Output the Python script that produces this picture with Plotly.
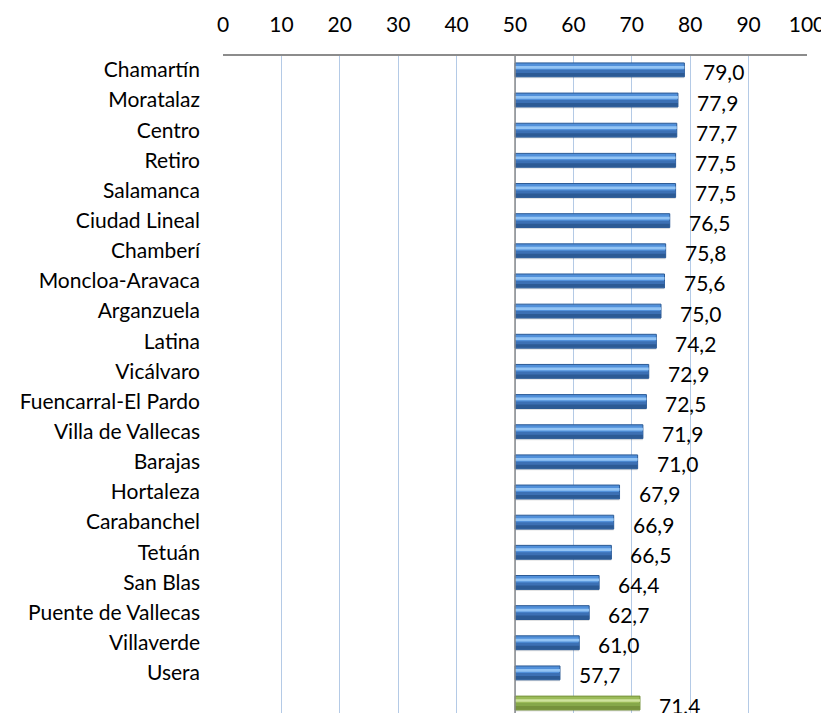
import plotly.graph_objects as go

categories = ["Chamartín", "Moratalaz", "Centro", "Retiro", "Salamanca", "Ciudad Lineal",
              "Chamberí", "Moncloa-Aravaca", "Arganzuela", "Latina", "Vicálvaro",
              "Fuencarral-El Pardo", "Villa de Vallecas", "Barajas", "Hortaleza",
              "Carabanchel", "Tetuán", "San Blas", "Puente de Vallecas", "Villaverde",
              "Usera", "Madrid"]
values = [79.0, 77.9, 77.7, 77.5, 77.5, 76.5, 75.8, 75.6, 75.0, 74.2, 72.9,
          72.5, 71.9, 71.0, 67.9, 66.9, 66.5, 64.4, 62.7, 61.0, 57.7, 71.4]
x_ticks = [0, 10, 20, 30, 40, 50, 60, 70, 80, 90, 100]
base_value = 50

FONT = "Lato"
FS = 21
pos = list(range(len(categories)))
lengths = [v - base_value for v in values]
is_total = [c == "Madrid" for c in categories]
dark = ["#76923C" if t else "#2C5A94" for t in is_total]
mid = ["#9BBB59" if t else "#5190DA" for t in is_total]
lower = ["#86A84A" if t else "#3C70B4" for t in is_total]
light = ["#CFE39E" if t else "#93C4F4" for t in is_total]

fig = go.Figure()
# shadow
fig.add_trace(go.Bar(y=pos, x=lengths, base=base_value, orientation="h",
                     width=0.4, offset=-0.12,
                     marker=dict(color="rgba(0,0,0,0.11)", line=dict(width=0)),
                     hoverinfo="skip", showlegend=False))
# main bar
fig.add_trace(go.Bar(y=pos, x=lengths, base=base_value, orientation="h",
                     width=0.46, offset=-0.23,
                     marker=dict(color=mid, line=dict(color=dark, width=1)),
                     showlegend=False))
# lower shading
fig.add_trace(go.Bar(y=pos, x=lengths, base=base_value, orientation="h",
                     width=0.2, offset=0.0,
                     marker=dict(color=lower, line=dict(width=0)),
                     hoverinfo="skip", showlegend=False))
# bottom dark band
fig.add_trace(go.Bar(y=pos, x=lengths, base=base_value, orientation="h",
                     width=0.12, offset=0.1,
                     marker=dict(color=dark, line=dict(width=0)),
                     hoverinfo="skip", showlegend=False))
# highlight band
fig.add_trace(go.Bar(y=pos, x=lengths, base=base_value, orientation="h",
                     width=0.09, offset=-0.13,
                     marker=dict(color=light, line=dict(width=0)),
                     hoverinfo="skip", showlegend=False))

for p, v in zip(pos, values):
    fig.add_annotation(x=v, y=p, text=f"{v:.1f}".replace(".", ","),
                       xanchor="left", yanchor="middle", xshift=17, yshift=-2,
                       showarrow=False, font=dict(family=FONT, size=FS, color="#000000"))

fig.add_shape(type="line", xref="x", yref="paper", x0=base_value, x1=base_value,
              y0=0, y1=1, line=dict(color="#8C8C8C", width=1.5), layer="above")

# the page body has an 8px default margin, so the figure is sized to fill the window
fig.update_layout(
    width=821, height=705,
    margin=dict(l=215, r=22, t=48, b=0),
    paper_bgcolor="white", plot_bgcolor="white",
    barmode="overlay",
    font=dict(family=FONT, size=FS, color="#000000"),
    xaxis=dict(range=[0, 100], tickvals=x_ticks, side="top",
               showgrid=True, gridcolor="#B4CAE6", gridwidth=1,
               showline=True, linecolor="#8C8C8C", linewidth=1.5, mirror=False,
               zeroline=False, ticks="", ticklabelstandoff=14,
               tickfont=dict(family=FONT, size=FS)),
    yaxis=dict(range=[21.33, -0.46], tickvals=pos, ticktext=categories,
               showgrid=False, zeroline=False, showline=False, ticks="",
               ticklabelstandoff=22, tickfont=dict(family=FONT, size=FS)),
)

fig.write_html("out.html")
